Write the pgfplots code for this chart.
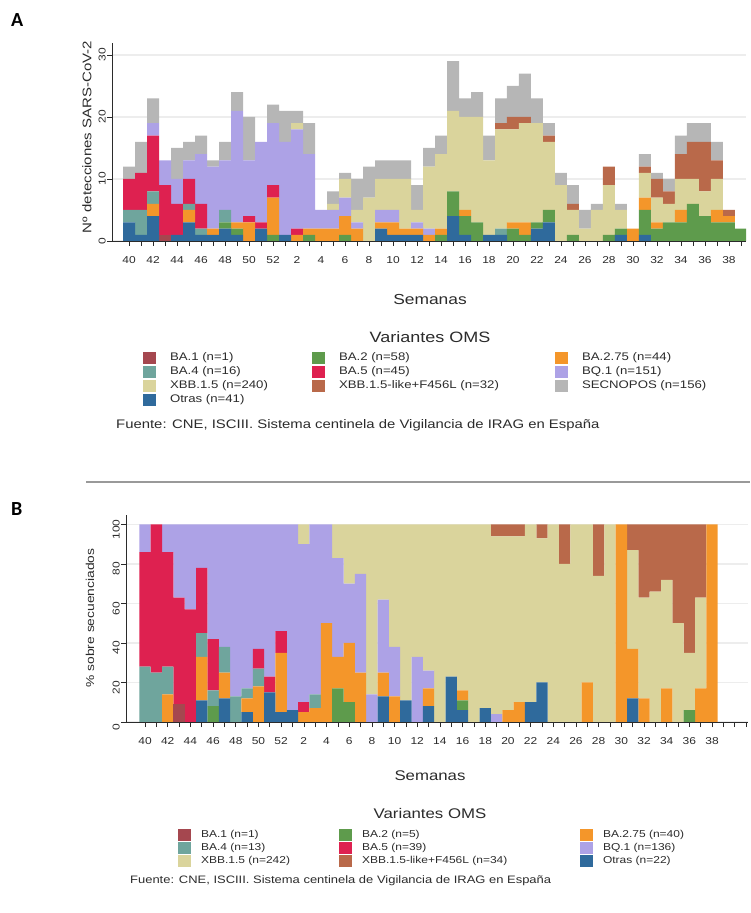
\documentclass[border=0pt]{standalone}
\usepackage{pgfplots}
\pgfplotsset{compat=1.18}
\usepackage{pgfplotstable}
\usepackage{fontspec}
\setmainfont{Liberation Sans}[FakeStretch=1.2]
\newfontfamily\panelfont{Carlito}

\definecolor{cO}{HTML}{2F6A9C}
\definecolor{cBAa}{HTML}{A5474F}
\definecolor{cBAb}{HTML}{5E9B4C}
\definecolor{cBAc}{HTML}{F4962A}
\definecolor{cBAd}{HTML}{6FA59D}
\definecolor{cBAe}{HTML}{DE2150}
\definecolor{cBQ}{HTML}{ADA2E6}
\definecolor{cX}{HTML}{DAD49C}
\definecolor{cXL}{HTML}{B9694A}
\definecolor{cS}{HTML}{B6B6B6}
\definecolor{txt}{HTML}{2B2B2B}

\pgfplotstableread{
i O B1 B2 B275 B4 B5 BQ X XL S
0 3 0 0 0 2 5 0 0 0 2
1 1 0 0 0 4 6 0 0 0 5
2 4 0 0 2 2 9 2 0 0 4
3 0 1 0 0 0 8 4 0 0 0
4 1 0 0 0 0 5 4 0 0 5
5 3 0 0 2 1 4 3 0 0 3
6 1 0 0 0 1 4 8 0 0 3
7 1 0 0 1 0 0 10 0 0 1
8 2 0 1 0 2 0 8 0 0 3
9 1 0 1 1 0 0 18 0 0 3
10 0 0 0 3 0 1 9 0 0 7
11 2 0 0 0 0 1 13 0 0 0
12 0 0 1 6 0 2 10 0 0 3
13 1 0 0 0 0 0 15 0 0 5
14 0 0 0 1 0 1 16 1 0 2
15 0 0 1 1 0 0 12 0 0 5
16 0 0 0 2 0 0 3 0 0 0
17 0 0 0 2 0 0 3 1 0 2
18 0 0 1 3 0 0 3 3 0 1
19 0 0 0 2 0 0 1 2 0 5
20 0 0 0 0 0 0 0 7 0 5
21 2 0 0 1 0 0 2 5 0 3
22 1 0 0 2 0 0 2 5 0 3
23 1 0 0 1 0 0 0 8 0 3
24 1 0 0 1 0 0 1 2 0 4
25 0 0 0 1 0 0 1 10 0 3
26 0 0 1 1 0 0 0 12 0 3
27 4 0 4 0 0 0 0 13 0 8
28 1 0 3 1 0 0 0 15 0 3
29 0 0 3 0 0 0 0 17 0 4
30 1 0 0 0 0 0 0 12 0 4
31 1 0 0 0 1 0 0 16 1 4
32 0 0 2 1 0 0 0 15 2 5
33 0 0 1 2 0 0 0 16 1 7
34 2 0 1 0 0 0 0 16 0 4
35 3 0 2 0 0 0 0 11 1 2
36 0 0 0 0 0 0 0 9 0 2
37 0 0 1 0 0 0 0 4 1 3
38 0 0 0 0 0 0 0 2 0 3
39 0 0 0 0 0 0 0 5 0 1
40 0 0 1 0 0 0 0 8 3 0
41 1 0 1 0 0 0 0 3 0 1
42 0 0 0 2 0 0 0 0 0 0
43 1 0 4 2 0 0 0 4 1 2
44 0 0 2 1 0 0 0 4 3 1
45 0 0 3 0 0 0 0 3 2 2
46 0 0 3 2 0 0 0 5 4 3
47 0 0 6 0 0 0 0 4 6 3
48 0 0 4 0 0 0 0 4 8 3
49 0 0 3 2 0 0 0 5 3 3
50 0 0 3 1 0 0 0 0 1 0
51 0 0 2 0 0 0 0 0 0 0
}\dataA

\pgfplotstableread{
i O B1 B2 B275 B4 B5 BQ X XL
0 0 0 0 0 28 58 14 0 0
1 0 0 0 0 25 75 0 0 0
2 0 0 0 14 14 58 14 0 0
3 0 9 0 0 0 54 37 0 0
4 0 0 0 0 0 57 43 0 0
5 11 0 0 22 12 33 22 0 0
6 0 0 8 0 8 26 58 0 0
7 12 0 0 13 13 0 62 0 0
8 0 0 0 0 13 0 87 0 0
9 5 0 0 7 5 0 83 0 0
10 0 0 0 18 9 10 63 0 0
11 15 0 0 0 0 8 77 0 0
12 5 0 0 30 0 11 54 0 0
13 6 0 0 0 0 0 94 0 0
14 0 0 0 5 0 5 80 10 0
15 0 0 0 7 7 0 86 0 0
16 0 0 0 50 0 0 50 0 0
17 0 0 17 16 0 0 50 17 0
18 0 0 10 30 0 0 30 30 0
19 0 0 0 25 0 0 50 25 0
20 0 0 0 0 0 0 14 86 0
21 13 0 0 12 0 0 37 38 0
22 0 0 0 13 0 0 25 62 0
23 11 0 0 0 0 0 0 89 0
24 0 0 0 0 0 0 33 67 0
25 8 0 0 9 0 0 9 74 0
26 0 0 0 0 0 0 0 100 0
27 23 0 0 0 0 0 0 77 0
28 6 0 5 5 0 0 0 84 0
29 0 0 0 0 0 0 0 100 0
30 7 0 0 0 0 0 0 93 0
31 0 0 0 0 0 0 4 90 6
32 0 0 0 6 0 0 0 88 6
33 0 0 0 10 0 0 0 84 6
34 10 0 0 0 0 0 0 90 0
35 20 0 0 0 0 0 0 73 7
36 0 0 0 0 0 0 0 100 0
37 0 0 0 0 0 0 0 80 20
38 0 0 0 0 0 0 0 100 0
39 0 0 0 20 0 0 0 80 0
40 0 0 0 0 0 0 0 74 26
41 0 0 0 0 0 0 0 100 0
42 0 0 0 100 0 0 0 0 0
43 12 0 0 25 0 0 0 50 13
44 0 0 0 12 0 0 0 51 37
45 0 0 0 0 0 0 0 66 34
46 0 0 0 17 0 0 0 55 28
47 0 0 0 0 0 0 0 50 50
48 0 0 6 0 0 0 0 29 65
49 0 0 0 17 0 0 0 46 37
50 0 0 0 100 0 0 0 0 0
}\dataB

\pgfplotsset{
  panel/.style={
    scale only axis, axis lines*=left, ybar stacked,
    tick align=outside, major tick length=5pt,
    tick style={txt, line width=0.6pt},
    axis line style={txt, line width=0.8pt},
    ymajorgrids, grid style={black!7, line width=1.2pt},
    /pgf/number format/assume math mode=true,
    ticklabel style={font=\fontsize{10}{10}\selectfont, text=txt},
    xticklabel style={yshift=-7pt},
    yticklabel style={rotate=90, anchor=south, inner sep=1pt},
    legend columns=3, legend cell align=left,
    every axis plot post/.append style={draw=none, legend image code/.code={\fill[##1] (0pt,-6pt) rectangle (13pt,6pt);}},
  },
  sq/.style={legend image code/.code={\fill[##1] (0pt,-6pt) rectangle (13pt,6pt);}},
}

\begin{document}
\begin{tikzpicture}
\path[use as bounding box] (0pt,0pt) rectangle (750pt,913pt);

% ---------------- Panel A ----------------
\node[anchor=base west, inner sep=0pt, font=\panelfont\bfseries\fontsize{20}{20}\selectfont] at (11pt,886pt) {A};
\begin{axis}[panel,
  at={(112pt,672pt)}, anchor=south west,
  width=634pt, height=198.4pt,
  xmin=-1.42, xmax=51.42, ymin=0, ymax=32,
  bar width=12pt,
  xtick={0,...,51},
  xticklabels={40,,42,,44,,46,,48,,50,,52,,2,,4,,6,,8,,10,,12,,14,,16,,18,,20,,22,,24,,26,,28,,30,,32,,34,,36,,38,},
  ytick={0,10,20,30},
  legend style={at={(0.0489,-0.5595)}, anchor=north west, draw=none, fill=none,
    inner sep=0pt, outer sep=0pt, row sep=2pt,
    font=\fontsize{11}{12}\selectfont, text=txt,
    nodes={inner xsep=0pt, inner ysep=0pt, text height=9pt, text depth=3pt},
    /tikz/every odd column/.append style={column sep=14pt},
    /tikz/every even column/.append style={column sep=10pt},
    /tikz/column 2/.style={text width=132pt},
    /tikz/column 4/.style={text width=206pt}},
]
\addplot[fill=cO, forget plot] table[x=i,y=O]{\dataA};
\addplot[fill=cBAa] table[x=i,y=B1]{\dataA}; \addlegendentry{BA.1 (n=1)}
\addplot[fill=cBAb] table[x=i,y=B2]{\dataA}; \addlegendentry{BA.2 (n=58)}
\addplot[fill=cBAc] table[x=i,y=B275]{\dataA}; \addlegendentry{BA.2.75 (n=44)}
\addplot[fill=cBAd] table[x=i,y=B4]{\dataA}; \addlegendentry{BA.4 (n=16)}
\addplot[fill=cBAe] table[x=i,y=B5]{\dataA}; \addlegendentry{BA.5 (n=45)}
\addplot[fill=cBQ] table[x=i,y=BQ]{\dataA}; \addlegendentry{BQ.1 (n=151)}
\addplot[fill=cX] table[x=i,y=X]{\dataA}; \addlegendentry{XBB.1.5 (n=240)}
\addplot[fill=cXL] table[x=i,y=XL]{\dataA}; \addlegendentry{XBB.1.5-like+F456L (n=32)}
\addplot[fill=cS] table[x=i,y=S]{\dataA}; \addlegendentry{SECNOPOS (n=156)}
\addlegendimage{fill=cO, draw=none, sq}\addlegendentry{Otras (n=41)}
\end{axis}
\node[rotate=90, font=\fontsize{12.5}{13}\selectfont, text=txt] at (87pt,776pt) {Nº detecciones SARS-CoV-2};
\node[font=\fontsize{14.5}{15}\selectfont, text=txt] at (430pt,613pt) {Semanas};
\node[font=\fontsize{15}{16}\selectfont, text=txt] at (430pt,576pt) {Variantes OMS};
\node[anchor=west, inner sep=0pt, font=\fontsize{12.4}{13}\selectfont, text=txt] at (116pt,488pt) {Fuente: CNE, ISCIII. Sistema centinela de Vigilancia de IRAG en España};
\draw[black!40, line width=1.5pt] (86pt,431pt) -- (750pt,431pt);

% ---------------- Panel B ----------------
\node[anchor=base west, inner sep=0pt, font=\panelfont\bfseries\fontsize{20}{20}\selectfont] at (11pt,397pt) {B};
\begin{axis}[panel,
  at={(126pt,191pt)}, anchor=south west,
  width=622pt, height=207.4pt,
  xmin=-1.68, xmax=53.17, ymin=0, ymax=105,
  bar width=11.34pt,
  xtick={0,...,53},
  xticklabels={40,,42,,44,,46,,48,,50,,52,,2,,4,,6,,8,,10,,12,,14,,16,,18,,20,,22,,24,,26,,28,,30,,32,,34,,36,,38,,,},
  ytick={0,20,40,60,80,100},
  yticklabel style={xshift=-5pt},
  legend style={at={(0.0836,-0.5135)}, anchor=north west, draw=none, fill=none,
    inner sep=0pt, outer sep=0pt, row sep=1pt,
    font=\fontsize{10}{11}\selectfont, text=txt,
    nodes={inner xsep=0pt, inner ysep=0pt, text height=8pt, text depth=3pt},
    /tikz/every odd column/.append style={column sep=10pt},
    /tikz/every even column/.append style={column sep=10pt},
    /tikz/column 2/.style={text width=128pt},
    /tikz/column 4/.style={text width=208pt}},
]
\addplot[fill=cO, forget plot] table[x=i,y=O]{\dataB};
\addplot[fill=cBAa] table[x=i,y=B1]{\dataB}; \addlegendentry{BA.1 (n=1)}
\addplot[fill=cBAb] table[x=i,y=B2]{\dataB}; \addlegendentry{BA.2 (n=5)}
\addplot[fill=cBAc] table[x=i,y=B275]{\dataB}; \addlegendentry{BA.2.75 (n=40)}
\addplot[fill=cBAd] table[x=i,y=B4]{\dataB}; \addlegendentry{BA.4 (n=13)}
\addplot[fill=cBAe] table[x=i,y=B5]{\dataB}; \addlegendentry{BA.5 (n=39)}
\addplot[fill=cBQ] table[x=i,y=BQ]{\dataB}; \addlegendentry{BQ.1 (n=136)}
\addplot[fill=cX] table[x=i,y=X]{\dataB}; \addlegendentry{XBB.1.5 (n=242)}
\addplot[fill=cXL] table[x=i,y=XL]{\dataB}; \addlegendentry{XBB.1.5-like+F456L (n=34)}
\addlegendimage{fill=cO, draw=none, sq}\addlegendentry{Otras (n=22)}
\end{axis}
\node[rotate=90, font=\fontsize{11.5}{12}\selectfont, text=txt] at (90pt,295pt) {\% sobre secuenciados};
\node[font=\fontsize{14}{15}\selectfont, text=txt] at (430pt,137pt) {Semanas};
\node[font=\fontsize{14}{15}\selectfont, text=txt] at (430pt,100pt) {Variantes OMS};
\node[anchor=west, inner sep=0pt, font=\fontsize{10.8}{11}\selectfont, text=txt] at (130pt,32pt) {Fuente: CNE, ISCIII. Sistema centinela de Vigilancia de IRAG en España};
\end{tikzpicture}
\end{document}
